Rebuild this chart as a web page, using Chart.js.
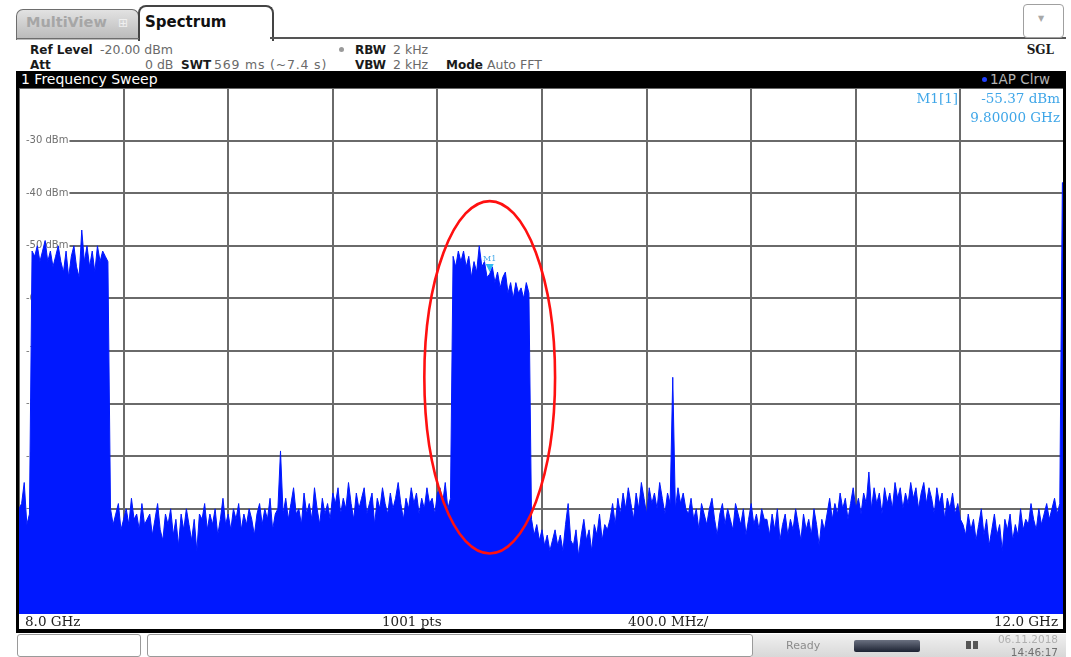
<!DOCTYPE html>
<html>
<head>
<meta charset="utf-8">
<script src="https://cdn.jsdelivr.net/npm/chart.js"></script>
<style>
    body { margin: 0; background: #fff; font-family: "DejaVu Sans", sans-serif; }
    #page { position: relative; width: 1071px; height: 657px; overflow: hidden; }
    .abs { position: absolute; white-space: pre; }
    .lbl { font-size: 12px; font-weight: bold; color: #1a1a1a; line-height: 14px; }
    .val { font-size: 12.5px; color: #6a6a6a; line-height: 14px; }
    .serif { font-family: "DejaVu Serif", serif; }
    #plotCanvas { position: absolute; left: 19px; top: 88px; }
    .frame { position: absolute; background: #000; z-index: 2; }
</style>
</head>
<body>
<div id="page">
    <!-- 탭 -->
    <div class="abs" style="left:16px;top:9px;width:121px;height:30px;border:1px solid #6d6d6d;border-bottom:none;border-radius:7px 7px 0 0;background:linear-gradient(#e2e2e2,#b9b9b9);"></div>
    <div class="abs" style="left:26px;top:14px;font-size:14.5px;font-weight:bold;color:#a6a6a6;line-height:17px;">MultiView</div>
    <div class="abs" style="left:118px;top:15px;font-size:12px;color:#f0f0f0;line-height:16px;">⊞</div>
    <div class="abs" style="left:138px;top:5px;width:132px;height:34px;border:2px solid #444;border-bottom:none;border-radius:8px 8px 0 0;background:#fff;"></div>
    <div class="abs" style="left:145px;top:13px;font-size:15px;font-weight:bold;color:#111;line-height:18px;">Spectrum</div>
    <div class="abs" style="left:16px;top:38px;width:123px;height:1px;background:#6d6d6d;"></div>
    <div class="abs" style="left:270px;top:37px;width:796px;height:2px;background:#555;"></div>
    <div class="abs" style="left:1023px;top:4px;width:39px;height:32px;border:1px solid #a0a0a0;border-radius:4px;background:#fff;"></div>
    <div class="abs" style="left:1038px;top:13px;font-size:8px;color:#a8a8a8;line-height:12px;">▼</div>

    <!-- 설정 정보 -->
    <div class="abs lbl" style="left:30px;top:43px;">Ref Level</div>
    <div class="abs val" style="left:100px;top:43px;">-20.00 dBm</div>
    <div class="abs lbl" style="left:30px;top:58px;">Att</div>
    <div class="abs val" style="left:145px;top:58px;">0 dB</div>
    <div class="abs lbl" style="left:181px;top:58px;">SWT</div>
    <div class="abs val" style="left:214px;top:58px;letter-spacing:0.8px;">569 ms (~7.4 s)</div>
    <div class="abs" style="left:339px;top:47px;width:5px;height:5px;border-radius:3px;background:#9a9a9a;"></div>
    <div class="abs lbl" style="left:355px;top:43px;">RBW</div>
    <div class="abs val" style="left:393px;top:43px;">2 kHz</div>
    <div class="abs lbl" style="left:355px;top:58px;">VBW</div>
    <div class="abs val" style="left:393px;top:58px;">2 kHz</div>
    <div class="abs lbl" style="left:446px;top:58px;">Mode</div>
    <div class="abs val" style="left:487px;top:58px;">Auto FFT</div>
    <div class="abs lbl serif" style="left:1012px;top:43px;width:42px;text-align:right;">SGL</div>

    <!-- 그래프 틀 -->
    <div class="frame" style="left:16px;top:71px;width:1050px;height:17px;border-radius:3px 3px 0 0;"></div>
    <div class="abs" style="left:21px;top:71px;font-size:14px;color:#fff;line-height:17px;z-index:3;">1 Frequency Sweep</div>
    <div class="abs" style="left:982px;top:77px;width:5px;height:5px;border-radius:3px;background:#2040ff;z-index:3;"></div>
    <div class="abs" style="left:990px;top:71px;font-size:13.5px;color:#b4b4b4;line-height:17px;z-index:3;">1AP Clrw</div>
    <div class="frame" style="left:16px;top:71px;width:3px;height:562px;"></div>
    <div class="frame" style="left:1063px;top:71px;width:3px;height:562px;"></div>
    <div class="frame" style="left:16px;top:629px;width:1050px;height:4px;"></div>

    <canvas id="plotCanvas" width="1046" height="526"></canvas>

    <div class="abs serif" style="left:25px;top:614px;font-size:13.5px;color:#222;line-height:15px;">8.0 GHz</div>
    <div class="abs serif" style="left:382px;top:614px;font-size:13.5px;color:#222;line-height:15px;">1001 pts</div>
    <div class="abs serif" style="left:628px;top:614px;font-size:13.5px;color:#222;line-height:15px;">400.0 MHz/</div>
    <div class="abs serif" style="left:960px;top:614px;width:98px;text-align:right;font-size:13.5px;color:#222;line-height:15px;">12.0 GHz</div>

    <!-- 상태 표시줄 -->
    <div class="abs" style="left:752px;top:634px;width:314px;height:23px;background:linear-gradient(#f0f0f0,#d8d8d8);"></div>
    <div class="abs" style="left:17px;top:634px;width:122px;height:21px;border:1px solid #9a9a9a;border-radius:3px;background:#fff;"></div>
    <div class="abs" style="left:147px;top:634px;width:604px;height:21px;border:1px solid #9a9a9a;border-radius:3px;background:#fff;"></div>
    <div class="abs" style="left:786px;top:639px;font-size:11px;color:#8c8c8c;line-height:14px;">Ready</div>
    <div class="abs" style="left:854px;top:640px;width:66px;height:12px;border-radius:2px;background:linear-gradient(#6a7080,#1c2232);"></div>
    <div class="abs" style="left:966px;top:641px;width:5px;height:8px;background:#555;"></div>
    <div class="abs" style="left:973px;top:641px;width:5px;height:8px;background:#555;"></div>
    <div class="abs" style="left:980px;top:633px;width:78px;text-align:right;font-size:10.5px;color:#b0b0b0;line-height:13px;">06.11.2018</div>
    <div class="abs" style="left:980px;top:646px;width:78px;text-align:right;font-size:10.5px;color:#707070;line-height:13px;">14:46:17</div>
</div>

<script>
    // 주파수 구간 시작점 (GHz), 10 MHz 간격
    const stepGHz = 0.01;
    const bandStartGHz = [8.00, 8.05, 8.35, 8.50, 8.70, 9.00, 9.21, 9.61, 9.66, 9.96, 10.06, 10.26, 10.50, 10.56, 10.86, 11.09, 11.61, 11.99];

    // 구간별 레벨 (dBm)
    const bandLevels = [
        [-100, -99, -95, -103, -101],
        [-51, -52, -50, -53, -51, -49, -53, -51, -54, -52, -50, -53, -55, -51, -56,
         -52, -50, -54, -56, -47, -53, -50, -54, -51, -55, -50, -53, -51, -52, -53],
        [-100, -103, -101, -99, -104, -102, -100, -103, -98, -102, -101, -104, -99, -103, -102],
        [-101, -105, -102, -99, -104, -106, -101, -103, -100, -105, -102, -107, -101, -104, -100, -103, -106, -102, -108, -101],
        [-102, -99, -104, -101, -103, -100, -105, -102, -98, -103, -101, -104, -100, -102, -99,
         -104, -101, -103, -100, -102, -105, -101, -99, -103, -100, -102, -98, -104, -101, -100],
        [-89, -101, -98, -102, -99, -96, -101, -100, -103, -97, -101, -99, -102, -96, -100, -103, -98, -101, -99, -102, -97],
        [-99, -96, -101, -98, -100, -95, -99, -102, -97, -100, -98, -96, -101, -99, -97, -103, -98, -100, -96, -99,
         -101, -97, -100, -98, -95, -99, -102, -98, -100, -96, -99, -97, -101, -98, -100, -96, -99, -98, -101, -97],
        [-96, -99, -95, -100, -98],
        [-52, -54, -51, -53, -51, -54, -52, -56, -53, -55, -50, -54, -53, -56, -55.37,
         -54, -57, -55, -58, -56, -55, -59, -57, -60, -57, -59, -58, -60, -57, -59],
        [-102, -105, -103, -106, -104, -107, -105, -108, -106, -104],
        [-107, -105, -108, -103, -99, -106, -107, -104, -109, -105, -102, -106, -104, -108, -103, -105, -101, -106, -103, -104],
        [-102, -99, -103, -98, -101, -97, -100, -96, -99, -102, -97, -100, -95, -98, -101, -96, -99, -97, -100, -95, -98, -101, -97, -99],
        [-75, -100, -96, -99, -97, -100],
        [-101, -98, -102, -100, -104, -99, -101, -103, -100, -98, -102, -105, -101, -99, -103,
         -100, -102, -104, -99, -101, -103, -100, -105, -102, -99, -103, -101, -104, -100, -102],
        [-102, -105, -101, -104, -100, -106, -103, -101, -105, -102, -104, -100, -103, -106, -101, -104, -102, -105, -100, -103, -107, -102, -104],
        [-101, -98, -102, -99, -101, -97, -100, -98, -102, -99, -96, -100, -98, -101, -97, -99, -93, -100, -96, -99,
         -97, -101, -96, -99, -97, -100, -95, -98, -96, -100, -97, -99, -95, -98, -96, -100, -97, -95, -99, -96,
         -98, -101, -96, -99, -97, -102, -98, -100, -97, -101, -99, -102],
        [-103, -105, -101, -104, -102, -106, -103, -100, -105, -102, -107, -104, -101, -105, -103, -108, -102, -104, -101,
         -106, -103, -105, -100, -104, -102, -103, -99, -102, -104, -100, -103, -101, -99, -102, -100, -98, -101, -99],
        [-38, -38]
    ];

    // 축 눈금
    const yLabelValues = [-30, -40, -50, -60, -70, -80, -90, -100, -110];
    const yLabels = ['-30 dBm', '-40 dBm', '-50 dBm', '-60 dBm', '-70 dBm', '-80 dBm', '-90 dBm', '-100 dBm', '-110 dBm'];

    // 마커 M1
    const markerFreqGHz = 9.80;
    const markerLevel = -55.37;

    // 빨간 타원 (GHz / dBm 범위)
    const ellipseFreq = [9.55, 10.05];
    const ellipseLevel = [-41.5, -108.5];

    const traceBlue = '#0018ff';
    const markerBlue = '#3fa6e8';

    const points = [];
    bandLevels.forEach(function (band, b) {
        band.forEach(function (v, j) {
            points.push({ x: +(bandStartGHz[b] + j * stepGHz).toFixed(2), y: v });
        });
    });

    const spectrumDecor = {
        id: 'spectrumDecor',
        beforeDatasetsDraw(chart) {
            const { ctx, chartArea, scales } = chart;
            ctx.save();
            ctx.font = '10px "DejaVu Sans"';
            ctx.textBaseline = 'middle';
            for (let i = 0; i < yLabelValues.length; i++) {
                const y = scales.y.getPixelForValue(yLabelValues[i]);
                const w = ctx.measureText(yLabels[i]).width;
                ctx.fillStyle = '#fff';
                ctx.fillRect(chartArea.left + 1, y - 4, w + 7, 8);
                ctx.fillStyle = '#707070';
                ctx.fillText(yLabels[i], chartArea.left + 7, y);
            }
            ctx.restore();
        },
        afterDatasetsDraw(chart) {
            const { ctx, chartArea, scales } = chart;
            ctx.save();

            // 타원
            const x1 = scales.x.getPixelForValue(ellipseFreq[0]);
            const x2 = scales.x.getPixelForValue(ellipseFreq[1]);
            const y1 = scales.y.getPixelForValue(ellipseLevel[0]);
            const y2 = scales.y.getPixelForValue(ellipseLevel[1]);
            ctx.beginPath();
            ctx.ellipse((x1 + x2) / 2, (y1 + y2) / 2, (x2 - x1) / 2, (y2 - y1) / 2, 0, 0, Math.PI * 2);
            ctx.strokeStyle = '#ff1010';
            ctx.lineWidth = 2.6;
            ctx.stroke();

            // 마커 삼각형
            const mx = scales.x.getPixelForValue(markerFreqGHz);
            const my = scales.y.getPixelForValue(markerLevel);
            ctx.fillStyle = '#30b8f0';
            ctx.beginPath();
            ctx.moveTo(mx - 4, my - 10);
            ctx.lineTo(mx + 4, my - 10);
            ctx.lineTo(mx, my - 2);
            ctx.closePath();
            ctx.fill();
            ctx.font = '8px "DejaVu Serif"';
            ctx.textAlign = 'center';
            ctx.textBaseline = 'bottom';
            ctx.fillStyle = markerBlue;
            ctx.fillText('M1', mx, my - 11);

            // 마커 값
            ctx.font = '13.5px "DejaVu Serif"';
            ctx.textAlign = 'right';
            ctx.textBaseline = 'middle';
            ctx.fillText('M1[1]', chartArea.right - 107, 11);
            ctx.fillText(markerLevel.toFixed(2) + ' dBm', chartArea.right - 5, 11);
            ctx.fillText(markerFreqGHz.toFixed(5) + ' GHz', chartArea.right - 5, 30);
            ctx.restore();
        }
    };

    const gridStyle = { color: '#6a6a6a', lineWidth: 2, drawTicks: false };

    new Chart(document.getElementById('plotCanvas'), {
        type: 'line',
        data: {
            datasets: [{
                data: points,
                borderColor: traceBlue,
                backgroundColor: traceBlue,
                borderWidth: 1,
                fill: 'start',
                pointRadius: 0,
                tension: 0
            }]
        },
        options: {
            responsive: false,
            animation: false,
            layout: { padding: 0 },
            plugins: {
                legend: { display: false },
                tooltip: { enabled: false }
            },
            scales: {
                x: {
                    type: 'linear',
                    min: 8,
                    max: 12,
                    ticks: { display: false, stepSize: 0.4 },
                    grid: gridStyle,
                    border: { display: false }
                },
                y: {
                    min: -120,
                    max: -20,
                    ticks: { display: false, stepSize: 10 },
                    grid: gridStyle,
                    border: { display: false }
                }
            }
        },
        plugins: [spectrumDecor]
    });
</script>
</body>
</html>
